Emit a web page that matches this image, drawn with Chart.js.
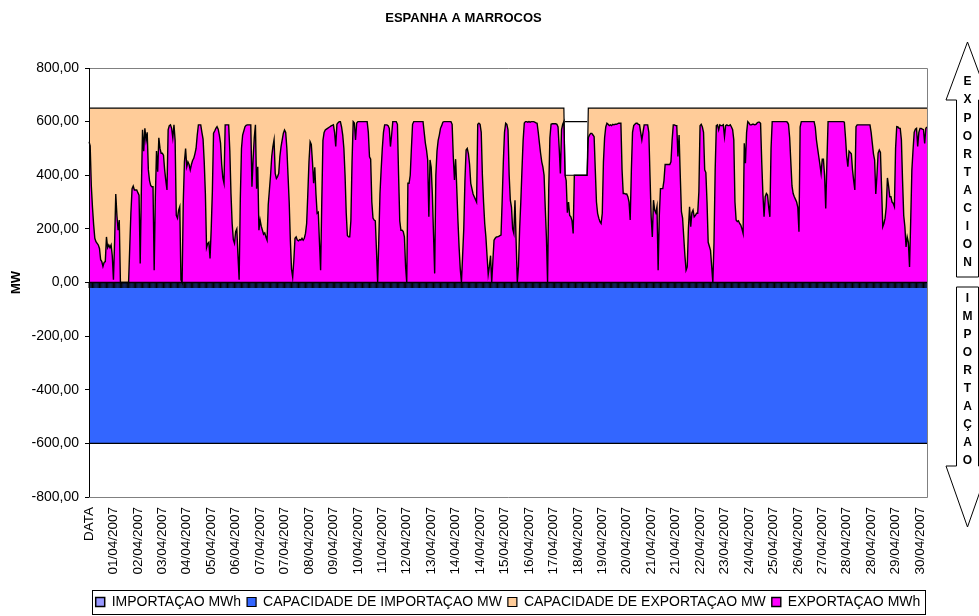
<!DOCTYPE html>
<html>
<head>
<meta charset="utf-8">
<title>ESPANHA A MARROCOS</title>
<script src="https://cdn.jsdelivr.net/npm/chart.js@4.4.1/dist/chart.umd.min.js"></script>
<style>
  html, body { margin: 0; padding: 0; background: #fff; }
  #wrap { width: 979px; height: 616px; position: relative; }
</style>
</head>
<body>
<div id="wrap"><canvas id="myChart"></canvas></div>
<script>
// labels shown under the axis, one every 21 hourly points
const rotulos = ['DATA', '01/04/2007', '02/04/2007', '03/04/2007', '04/04/2007', '05/04/2007', '06/04/2007',
  '07/04/2007', '07/04/2007', '08/04/2007', '09/04/2007', '10/04/2007', '11/04/2007', '12/04/2007', '13/04/2007',
  '14/04/2007', '14/04/2007', '15/04/2007', '16/04/2007', '17/04/2007', '18/04/2007', '19/04/2007', '20/04/2007',
  '21/04/2007', '21/04/2007', '22/04/2007', '23/04/2007', '24/04/2007', '25/04/2007', '26/04/2007', '27/04/2007',
  '28/04/2007', '28/04/2007', '29/04/2007', '30/04/2007'];
const passoRotulo = 21;

const yTicks = [-800, -600, -400, -200, 0, 200, 400, 600, 800];

// hourly export, first value is the DATA row, then 24 values per day
const exportacaoMWh = [
  525,
  510, 360, 280, 215, 165, 152, 146, 140, 127, 85, 78, 60, 75, 78, 170, 130, 140, 130, 140, 100, 10, 150, 330, 250,
  195, 233, 0, 0, 0, 0, 0, 0, 0, 0, 130, 260, 350, 360, 345, 345, 345, 335, 326, 71, 350, 570, 490, 575,
  531, 560, 420, 380, 362, 357, 357, 46, 320, 490, 413, 540, 500, 482, 482, 475, 420, 380, 345, 569, 585, 588, 575, 540,
  588, 530, 250, 240, 270, 283, 10, 0, 300, 450, 500, 432, 450, 440, 420, 440, 455, 463, 480, 500, 550, 588, 588, 588,
  560, 535, 450, 330, 130, 145, 150, 90, 200, 340, 557, 565, 575, 581, 572, 550, 520, 440, 390, 370, 588, 588, 588, 588,
  490, 330, 220, 160, 146, 190, 200, 100, 10, 310, 500, 550, 565, 581, 586, 588, 588, 588, 588, 357, 460, 540, 588, 350,
  432, 195, 233, 210, 195, 180, 185, 170, 158, 290, 345, 400, 470, 507, 532, 407, 388, 395, 407, 470, 507, 532, 557, 569,
  560, 500, 400, 300, 158, 50, 20, 83, 165, 170, 158, 155, 160, 158, 165, 158, 165, 183, 220, 330, 450, 525, 515, 450,
  370, 430, 330, 258, 262, 150, 46, 300, 530, 560, 569, 572, 575, 578, 581, 584, 586, 588, 560, 507, 590, 596, 600, 600,
  580, 550, 500, 400, 260, 175, 170, 170, 230, 450, 600, 595, 532, 595, 600, 600, 600, 600, 600, 600, 600, 600, 600, 560,
  469, 460, 300, 240, 233, 230, 120, 0, 160, 330, 420, 500, 560, 588, 588, 588, 585, 575, 507, 550, 600, 600, 600, 600,
  590, 400, 230, 195, 195, 190, 170, 60, 0, 370, 370, 400, 500, 590, 600, 600, 600, 600, 600, 600, 600, 600, 600, 560,
  520, 494, 457, 245, 457, 430, 330, 180, 34, 400, 490, 530, 550, 575, 585, 598, 600, 600, 600, 600, 600, 600, 600, 590,
  469, 382, 460, 350, 230, 130, 50, 0, 100, 200, 380, 494, 500, 480, 440, 370, 350, 330, 320, 310, 300, 590, 594, 590,
  560, 400, 300, 220, 170, 100, 30, 60, 100, 0, 80, 158, 165, 170, 170, 172, 175, 177, 307, 450, 560, 594, 590, 569,
  400, 307, 280, 200, 183, 307, 150, 0, 60, 200, 300, 420, 530, 595, 600, 600, 598, 600, 598, 600, 600, 600, 598, 595,
  594, 560, 520, 482, 450, 430, 400, 280, 170, 0, 350, 540, 590, 592, 592, 592, 592, 590, 580, 500, 407, 569, 590, 600,
  400, 380, 260, 300, 250, 245, 230, 183, 400, 400, 400, 400, 400, 400, 400, 400, 400, 400, 400, 400, 540, 550, 556, 556,
  550, 544, 420, 300, 258, 240, 227, 220, 258, 450, 540, 580, 594, 590, 585, 588, 585, 590, 588, 590, 590, 592, 594, 594,
  594, 420, 332, 332, 330, 330, 320, 300, 233, 420, 560, 585, 590, 594, 594, 590, 588, 560, 532, 560, 588, 588, 588, 588,
  560, 400, 245, 170, 307, 270, 260, 283, 46, 250, 350, 350, 350, 380, 440, 440, 440, 440, 440, 450, 530, 588, 588, 585,
  585, 470, 550, 400, 264, 240, 170, 100, 46, 58, 200, 282, 208, 260, 270, 245, 250, 258, 258, 339, 585, 590, 580, 560,
  420, 410, 300, 150, 135, 120, 60, 0, 150, 420, 585, 588, 569, 588, 585, 585, 588, 544, 585, 588, 585, 585, 588, 580,
  570, 532, 300, 233, 227, 230, 220, 214, 200, 183, 519, 445, 560, 600, 595, 588, 588, 590, 590, 588, 590, 595, 598, 598,
  594, 450, 332, 245, 320, 332, 326, 280, 245, 500, 600, 600, 600, 600, 600, 600, 600, 600, 600, 600, 600, 600, 600, 598,
  590, 540, 450, 360, 332, 320, 310, 300, 280, 189, 580, 600, 600, 600, 600, 600, 600, 600, 600, 600, 600, 600, 600, 580,
  532, 500, 470, 440, 407, 460, 460, 400, 276, 450, 600, 600, 600, 600, 600, 600, 600, 600, 600, 600, 600, 600, 600, 600,
  598, 540, 470, 432, 490, 485, 480, 420, 380, 345, 581, 588, 588, 588, 588, 588, 588, 588, 588, 588, 588, 588, 588, 560,
  520, 480, 457, 330, 400, 482, 494, 485, 350, 208, 220, 240, 283, 390, 360, 320, 320, 300, 295, 283, 500, 581, 580, 575,
  575, 532, 380, 250, 208, 133, 170, 150, 58, 230, 420, 494, 560, 572, 575, 507, 560, 575, 575, 572, 570, 519, 575, 580
];

// [first point, last point, MW]
const capExportacaoTrechos = [[0, 408, 650], [409, 428, 400], [429, 720, 650]];
const capImportacaoTrechos = [[0, 720, -600]];
const importacaoTrechos = [[0, 720, 0]];
const limiteTrechos = [[409, 428, 600]];

// one category per hour of april 2007
const categorias = ['DATA'];
for (let d = 1; d <= 30; d++) {
  for (let h = 0; h < 24; h++) {
    categorias.push(String(d).padStart(2, '0') + '/04/2007 ' + String(h).padStart(2, '0') + ':00');
  }
}

function expandir(trechos) {
  const out = new Array(categorias.length).fill(null);
  trechos.forEach(([a, b, v]) => {
    for (let i = a; i <= b; i++) out[i] = v;
  });
  return out;
}

const fonte = "'Liberation Sans', Arial, sans-serif";
Chart.defaults.font.family = fonte;
Chart.defaults.color = '#000';

const extras = {
  id: 'extras',
  beforeDraw(chart) {
    const c = chart.ctx;
    c.save();
    c.fillStyle = '#fff';
    c.fillRect(0, 0, chart.width, chart.height);
    c.restore();
  },
  afterDatasetsDraw(chart) {
    const c = chart.ctx;
    const xs = chart.scales.x, ys = chart.scales.y;
    const a = chart.chartArea;
    const y0 = Math.round(ys.getPixelForValue(0));
    c.save();
    // category tick marks hanging under the zero line
    c.strokeStyle = '#000';
    c.lineWidth = 1;
    c.beginPath();
    for (let i = 0; i < categorias.length; i++) {
      const x = xs.getPixelForValue(i);
      c.moveTo(x, y0);
      c.lineTo(x, y0 + 5);
    }
    c.stroke();
    // plot frame
    c.strokeStyle = '#808080';
    c.beginPath();
    c.moveTo(a.left, Math.round(a.top) + 0.5);
    c.lineTo(Math.round(a.right) + 0.5, Math.round(a.top) + 0.5);
    c.lineTo(Math.round(a.right) + 0.5, Math.round(a.bottom) + 0.5);
    c.lineTo(a.left, Math.round(a.bottom) + 0.5);
    c.stroke();
    c.strokeStyle = '#000';
    c.beginPath();
    c.moveTo(Math.round(a.left) + 0.5, a.top);
    c.lineTo(Math.round(a.left) + 0.5, a.bottom);
    c.stroke();
    c.restore();
  },
  afterDraw(chart) {
    const c = chart.ctx;
    c.save();
    // frame round the legend
    const hb = chart.legend.legendHitBoxes;
    if (hb && hb.length) {
      const l = Math.min(...hb.map(b => b.left)) - 4;
      const r = Math.max(...hb.map(b => b.left + b.width)) + 4;
      const cy = hb[0].top + hb[0].height / 2;
      c.strokeStyle = '#000';
      c.lineWidth = 1;
      c.strokeRect(Math.round(l) + 0.5, Math.round(cy - 12) + 0.5, Math.round(r - l), 24);
    }
    // direction arrows on the right
    const seta = (pts) => {
      c.beginPath();
      pts.forEach(([x, y], i) => (i ? c.lineTo(x, y) : c.moveTo(x, y)));
      c.closePath();
      c.fillStyle = '#fff';
      c.fill();
      c.strokeStyle = '#000';
      c.lineWidth = 1;
      c.stroke();
    };
    seta([[967.5, 42], [989, 100], [978.5, 100], [978.5, 277], [956.5, 277], [956.5, 100], [946, 100]]);
    seta([[956.5, 287], [978.5, 287], [978.5, 466], [989, 466], [967.5, 527], [946, 466], [956.5, 466]]);
    c.fillStyle = '#000';
    c.font = 'bold 12px ' + fonte;
    c.textAlign = 'center';
    c.textBaseline = 'middle';
    'EXPORTACION'.split('').forEach((ch, i) => c.fillText(ch, 967.5, 82 + i * 18.1));
    'IMPORTAÇAO'.split('').forEach((ch, i) => c.fillText(ch, 967.5, 299 + i * 18));
    c.restore();
  }
};

new Chart(document.getElementById('myChart'), {
  type: 'line',
  data: {
    labels: categorias,
    datasets: [
      {
        label: 'IMPORTAÇAO MWh',
        data: expandir(importacaoTrechos),
        order: 0,
        borderColor: '#000',
        backgroundColor: '#9999FF',
        borderWidth: 1.5,
        fill: false
      },
      {
        label: 'CAPACIDADE DE IMPORTAÇAO MW',
        data: expandir(capImportacaoTrechos),
        order: 3,
        borderColor: '#000',
        backgroundColor: '#3366FF',
        borderWidth: 1.2,
        fill: 'origin'
      },
      {
        label: 'CAPACIDADE DE EXPORTAÇAO MW',
        data: expandir(capExportacaoTrechos),
        order: 2,
        borderColor: '#000',
        backgroundColor: '#FFCC99',
        borderWidth: 1.2,
        fill: 'origin'
      },
      {
        label: 'EXPORTAÇAO MWh',
        data: exportacaoMWh,
        order: 1,
        borderColor: '#000',
        backgroundColor: '#FF00FF',
        borderWidth: 1.4,
        fill: 'origin'
      },
      {
        label: '',
        data: expandir(limiteTrechos),
        order: 0,
        borderColor: '#000',
        backgroundColor: '#fff',
        borderWidth: 1.2,
        fill: false
      }
    ]
  },
  options: {
    responsive: true,
    maintainAspectRatio: false,
    devicePixelRatio: 1,
    animation: false,
    elements: { point: { radius: 0 }, line: { tension: 0 } },
    layout: { padding: { left: 0, right: 52, top: 0, bottom: 0 } },
    plugins: {
      title: {
        display: true,
        text: 'ESPANHA A MARROCOS',
        font: { size: 13, weight: 'bold' },
        padding: { top: 11, bottom: 41.4 }
      },
      legend: {
        position: 'bottom',
        fullSize: false,
        maxHeight: 27,
        labels: {
          boxWidth: 9,
          boxHeight: 9,
          padding: 6,
          font: { size: 14 },
          filter: (item) => item.text !== '',
          sort: (a, b) => a.datasetIndex - b.datasetIndex
        }
      },
      tooltip: { enabled: false }
    },
    scales: {
      x: {
        type: 'category',
        offset: false,
        grid: { display: false },
        border: { display: false },
        ticks: {
          autoSkip: false,
          minRotation: 90,
          maxRotation: 90,
          padding: 2,
          font: { size: 13.5 },
          callback: (v, i) => (i % passoRotulo === 0 ? rotulos[i / passoRotulo] : '')
        },
        afterFit: (s) => { s.height = 92; }
      },
      y: {
        min: -800,
        max: 800,
        grid: { drawOnChartArea: false, drawTicks: true, tickLength: 4, color: '#000' },
        border: { display: true, color: '#000' },
        afterBuildTicks: (s) => { s.ticks = yTicks.map(v => ({ value: v })); },
        ticks: {
          padding: 6,
          font: { size: 14 },
          callback: (v) => v.toFixed(2).replace('.', ',')
        },
        title: {
          display: true,
          text: 'MW',
          font: { size: 13, weight: 'bold' },
          padding: { top: 9, bottom: 0 }
        },
        afterFit: (s) => { s.width = 89; }
      }
    }
  },
  plugins: [extras]
});
</script>
</body>
</html>
